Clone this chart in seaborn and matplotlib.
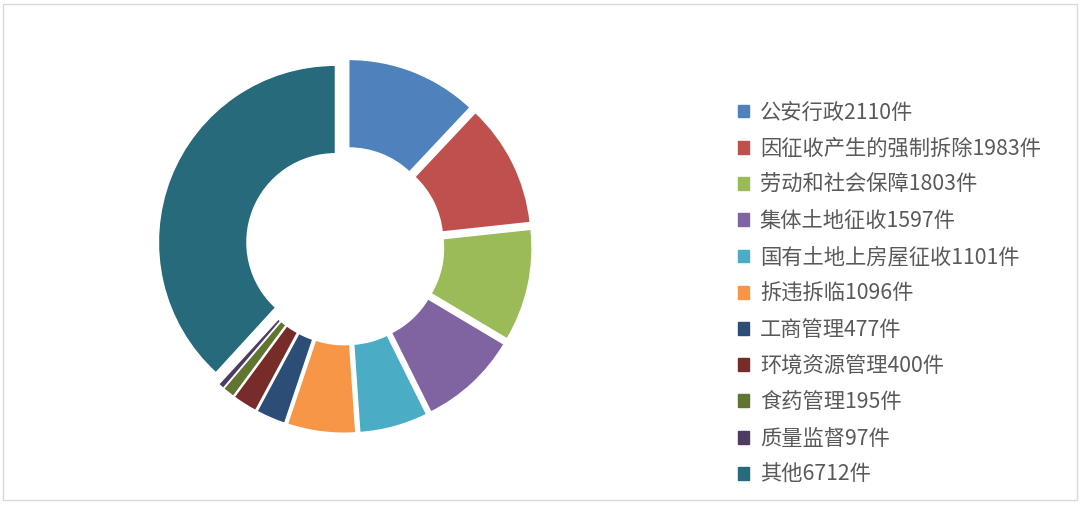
import matplotlib
matplotlib.use("Agg")
import matplotlib.pyplot as plt
import matplotlib.patches as mpatches
import seaborn as sns

# 数据
categories = ["公安行政", "因征收产生的强制拆除", "劳动和社会保障", "集体土地征收",
              "国有土地上房屋征收", "拆违拆临", "工商管理", "环境资源管理",
              "食药管理", "质量监督", "其他"]
counts = [2110, 1983, 1803, 1597, 1101, 1096, 477, 400, 195, 97, 6712]
colors = ["#4F81BD", "#C0504D", "#9BBB59", "#8064A2", "#4BACC6", "#F79646",
          "#2C4D75", "#772C2A", "#5F7530", "#4D3B62", "#276A7C"]

sns.set_theme(style="white")
plt.rcParams["font.family"] = ["Noto Sans CJK SC", "DejaVu Sans"]

W, H = 1080, 505
fig = plt.figure(figsize=(W / 100, H / 100), dpi=100)
fig.patch.set_facecolor("white")

# 外框
fig.add_artist(mpatches.Rectangle((3 / W, 5 / H), 1074 / W, 496 / H, transform=fig.transFigure,
                                  fill=False, edgecolor="#D9D9D9", linewidth=1))

# 圆环图
r_px = 177
cx, cy = 345, H - 246
half = 1.25 * r_px
ax = fig.add_axes([(cx - half) / W, (cy - half) / H, 2 * half / W, 2 * half / H])
wedges, _ = ax.pie(counts, colors=colors, startangle=90, counterclock=False,
                   explode=[0.058] * len(counts),
                   wedgeprops=dict(width=0.5, edgecolor="white", linewidth=1))
ax.set_xlim(-1.25, 1.25)
ax.set_ylim(-1.25, 1.25)
ax.set_aspect("equal")

# 图例
handles = [mpatches.Patch(color=c, label=f"{n}{v}件") for n, v, c in zip(categories, counts, colors)]
leg = fig.legend(handles=handles, loc="upper left", bbox_to_anchor=(729 / W, 1 - 93 / H),
                 frameon=False, fontsize=15.3, handlelength=0.55, handleheight=0.55,
                 handletextpad=0.5, labelspacing=0.67, borderaxespad=0)
for t in leg.get_texts():
    t.set_color("#595959")

fig.savefig("out.png", dpi=100, facecolor="white")
